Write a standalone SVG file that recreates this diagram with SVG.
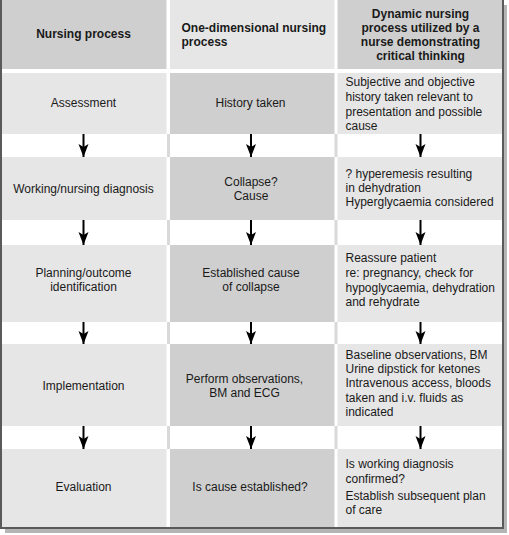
<svg xmlns="http://www.w3.org/2000/svg" width="509" height="535" viewBox="0 0 509 535">
<style>
  text { font-family: "Liberation Sans", Arial, sans-serif; font-size: 12px; fill: #1a1a1a; }
  .h { font-weight: bold; }
  .c { text-anchor: middle; }
  .dark { fill: #cfcfcf; }
  .light { fill: #e6e6e6; }
  .gap { fill: #d9d9d9; }
  .arr { stroke: #000; stroke-width: 2; fill: none; marker-end: url(#ah); }
</style>
<defs>
  <marker id="ah" markerUnits="userSpaceOnUse" markerWidth="13" markerHeight="11" viewBox="0 0 13 11" refX="13" refY="5.5" orient="auto">
    <path d="M0,0.5 L13,5.5 L0,10.5 L3,5.5 z" fill="#000"/>
  </marker>
</defs>
<!-- shadow and frame -->
<rect x="5" y="5" width="502" height="528" fill="#b5b5b5"/>
<rect x="1" y="-1" width="502" height="529" fill="#fff" stroke="#5a5a5a" stroke-width="2"/>
<!-- gaps in arrow rows -->
<g id="gaps">
  <rect class="gap" x="167" y="134" width="3" height="23"/>
  <rect class="gap" x="334.5" y="134" width="3" height="23"/>
  <rect class="gap" x="167" y="220" width="3" height="25"/>
  <rect class="gap" x="334.5" y="220" width="3" height="25"/>
  <rect class="gap" x="167" y="322" width="3" height="22"/>
  <rect class="gap" x="334.5" y="322" width="3" height="22"/>
  <rect class="gap" x="167" y="426" width="3" height="23"/>
  <rect class="gap" x="334.5" y="426" width="3" height="23"/>
</g>
<!-- header -->
<g id="h1"><rect class="dark" x="2" y="0" width="164.5" height="69"/><text class="h c" x="83.5" y="38">Nursing process</text></g>
<g id="h2"><rect class="light" x="170" y="0" width="164.5" height="69"/><text class="h" x="181.5" y="31.5">One-dimensional nursing</text><text class="h" x="181.5" y="46">process</text></g>
<g id="h3"><rect class="dark" x="337.5" y="0" width="164.5" height="69"/>
  <text class="h c" x="420.5" y="17.5">Dynamic nursing</text>
  <text class="h c" x="420.5" y="31.8">process utilized by a</text>
  <text class="h c" x="420.5" y="46">nurse demonstrating</text>
  <text class="h c" x="420.5" y="60.3">critical thinking</text></g>
<!-- row 1 -->
<g id="r1c1"><rect class="light" x="2" y="73" width="164.5" height="61"/><text class="c" x="83.5" y="107">Assessment</text></g>
<g id="r1c2"><rect class="dark" x="170" y="73" width="164.5" height="61"/><text class="c" x="250.5" y="107">History taken</text></g>
<g id="r1c3"><rect class="light" x="337.5" y="73" width="164.5" height="61"/>
  <text x="345.5" y="86">Subjective and objective</text>
  <text x="345.5" y="101">history taken relevant to</text>
  <text x="345.5" y="115.8">presentation and possible</text>
  <text x="345.5" y="130.3">cause</text></g>
<!-- row 2 -->
<g id="r2c1"><rect class="light" x="2" y="157" width="164.5" height="63"/><text class="c" x="83.5" y="192.7">Working/nursing diagnosis</text></g>
<g id="r2c2"><rect class="dark" x="170" y="157" width="164.5" height="63"/><text class="c" x="251" y="185.5">Collapse?</text><text class="c" x="251" y="199.5">Cause</text></g>
<g id="r2c3"><rect class="light" x="337.5" y="157" width="164.5" height="63"/>
  <text x="345.5" y="177.7">? hyperemesis resulting</text>
  <text x="345.5" y="191.7">in dehydration</text>
  <text x="345.5" y="206">Hyperglycaemia considered</text></g>
<!-- row 3 -->
<g id="r3c1"><rect class="light" x="2" y="245" width="164.5" height="77"/><text class="c" x="83.5" y="276.7">Planning/outcome</text><text class="c" x="83.5" y="290.5">identification</text></g>
<g id="r3c2"><rect class="dark" x="170" y="245" width="164.5" height="77"/><text class="c" x="251" y="277">Established cause</text><text class="c" x="251" y="291">of collapse</text></g>
<g id="r3c3"><rect class="light" x="337.5" y="245" width="164.5" height="77"/>
  <text x="345.5" y="262">Reassure patient</text>
  <text x="345.5" y="277">re: pregnancy, check for</text>
  <text x="345.5" y="291.7">hypoglycaemia, dehydration</text>
  <text x="345.5" y="306">and rehydrate</text></g>
<!-- row 4 -->
<g id="r4c1"><rect class="light" x="2" y="344" width="164.5" height="82"/><text class="c" x="83.5" y="390">Implementation</text></g>
<g id="r4c2"><rect class="dark" x="170" y="344" width="164.5" height="82"/><text class="c" x="244.5" y="382.7">Perform observations,</text><text class="c" x="244.5" y="396.7">BM and ECG</text></g>
<g id="r4c3"><rect class="light" x="337.5" y="344" width="164.5" height="82"/>
  <text x="345.5" y="358.5">Baseline observations, BM</text>
  <text x="345.5" y="372.7">Urine dipstick for ketones</text>
  <text x="345.5" y="387">Intravenous access, bloods</text>
  <text x="345.5" y="401.7">taken and i.v. fluids as</text>
  <text x="345.5" y="416">indicated</text></g>
<!-- row 5 -->
<g id="r5c1"><rect class="light" x="2" y="449" width="164.5" height="78"/><text class="c" x="83.5" y="491">Evaluation</text></g>
<g id="r5c2"><rect class="dark" x="170" y="449" width="164.5" height="78"/><text class="c" x="250" y="491">Is cause established?</text></g>
<g id="r5c3"><rect class="light" x="337.5" y="449" width="164.5" height="78"/>
  <text x="345.5" y="467.7">Is working diagnosis</text>
  <text x="345.5" y="482.7">confirmed?</text>
  <text x="345.5" y="499.5">Establish subsequent plan</text>
  <text x="345.5" y="513.5">of care</text></g>
<!-- connectors -->
<g id="connectors">
  <line class="arr" x1="83.5" y1="134" x2="83.5" y2="157"/>
  <line class="arr" x1="251" y1="134" x2="251" y2="157"/>
  <line class="arr" x1="420.5" y1="134" x2="420.5" y2="157"/>
  <line class="arr" x1="83.5" y1="220" x2="83.5" y2="245"/>
  <line class="arr" x1="251" y1="220" x2="251" y2="245"/>
  <line class="arr" x1="420.5" y1="220" x2="420.5" y2="245"/>
  <line class="arr" x1="83.5" y1="322" x2="83.5" y2="344"/>
  <line class="arr" x1="251" y1="322" x2="251" y2="344"/>
  <line class="arr" x1="420.5" y1="322" x2="420.5" y2="344"/>
  <line class="arr" x1="83.5" y1="426" x2="83.5" y2="449"/>
  <line class="arr" x1="251" y1="426" x2="251" y2="449"/>
  <line class="arr" x1="420.5" y1="426" x2="420.5" y2="449"/>
</g>
</svg>
